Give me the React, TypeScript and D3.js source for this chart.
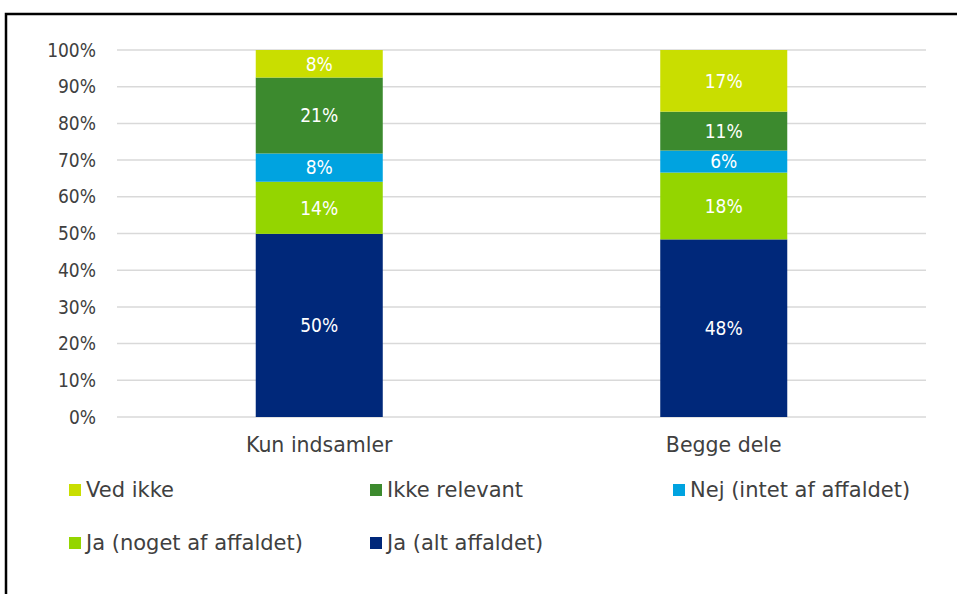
import React from "react";
import * as d3 from "d3";

// categories and series (shares of 100 %)
const categories = ["Kun indsamler", "Begge dele"];
const seriesNames = [
  "Ja (alt affaldet)",
  "Ja (noget af affaldet)",
  "Nej (intet af affaldet)",
  "Ikke relevant",
  "Ved ikke",
];
const jaAlt = [49.9, 48.4];
const jaNoget = [14.2, 18.2];
const nej = [7.7, 6.0];
const ikkeRelevant = [20.7, 10.6];
const vedIkke = [7.5, 16.8];
const seriesColors = ["#00287a", "#94d500", "#00a3e0", "#3c8a2e", "#c9de00"];
const yTicks = [0, 10, 20, 30, 40, 50, 60, 70, 80, 90, 100];

// legend is laid out in reading order: Ved ikke, Ikke relevant, Nej / Ja noget, Ja alt
const legendOrder = [4, 3, 2, 1, 0];

const W = 957;
const H = 594;
const margin = { top: 50, right: 31, bottom: 177, left: 117 };
const numFont = "'DejaVu Sans Condensed', 'DejaVu Sans', sans-serif";
const textFont = "'DejaVu Sans', sans-serif";

const App: React.FC = () => {
  const values = [jaAlt, jaNoget, nej, ikkeRelevant, vedIkke];
  const rows = categories.map((c, i) => {
    const r: { [k: string]: number | string } = { cat: c };
    seriesNames.forEach((s, j) => (r[s] = values[j][i]));
    return r;
  });
  const stacked = d3.stack<any>().keys(seriesNames)(rows);

  const x = d3
    .scaleBand<string>()
    .domain(categories)
    .range([margin.left, W - margin.right]);
  const y = d3
    .scaleLinear()
    .domain([0, 100])
    .range([H - margin.bottom, margin.top]);

  const barW = x.bandwidth() * 0.314;
  const textColor = "#404040";

  return (
    <svg
      width={W}
      height={H}
      style={{ position: "absolute", left: 0, top: 0 }}
    >
      <rect x={0} y={0} width={W} height={H} fill="#fff" />
      <rect
        x={6}
        y={14}
        width={W + 10}
        height={H + 10}
        fill="none"
        stroke="#000"
        strokeWidth={2.5}
      />

      {/* gridlines + y labels */}
      {yTicks.map((t) => (
        <g key={t}>
          <line
            x1={margin.left}
            x2={W - margin.right}
            y1={y(t)}
            y2={y(t)}
            stroke="#d9d9d9"
            strokeWidth={1.5}
          />
          <text
            x={96}
            y={y(t)}
            dy="0.35em"
            textAnchor="end"
            fontSize={19}
            fontFamily={numFont}
            fill={textColor}
          >
            {t}%
          </text>
        </g>
      ))}

      {/* stacked bars */}
      {stacked.map((layer, j) => (
        <g key={layer.key} fill={seriesColors[j]}>
          {layer.map((d, i) => {
            const cx = (x(categories[i]) as number) + x.bandwidth() / 2;
            const y0 = y(d[0]);
            const y1 = y(d[1]);
            return (
              <g key={i}>
                <rect x={cx - barW / 2} y={y1} width={barW} height={y0 - y1} />
                <text
                  x={cx}
                  y={(y0 + y1) / 2}
                  dy="0.36em"
                  textAnchor="middle"
                  fontSize={19}
                  fontFamily={numFont}
                  fill="#fff"
                >
                  {Math.round(d[1] - d[0])}%
                </text>
              </g>
            );
          })}
        </g>
      ))}

      {/* category labels */}
      {categories.map((c) => (
        <text
          key={c}
          x={(x(c) as number) + x.bandwidth() / 2}
          y={445}
          dy="0.35em"
          textAnchor="middle"
          fontSize={20.5}
          fontFamily={textFont}
          fill={textColor}
        >
          {c}
        </text>
      ))}

      {/* legend */}
      {legendOrder.map((si, k) => {
        const col = k % 3;
        const row = Math.floor(k / 3);
        const lx = [69, 370, 673][col];
        const ly = 490 + row * 53;
        return (
          <g key={si}>
            <rect x={lx} y={ly - 6} width={12} height={12} fill={seriesColors[si]} />
            <text
              x={lx + 17}
              y={ly}
              dy="0.35em"
              fontSize={21}
              fontFamily={textFont}
              fill={textColor}
            >
              {seriesNames[si]}
            </text>
          </g>
        );
      })}
    </svg>
  );
};

export default App;
